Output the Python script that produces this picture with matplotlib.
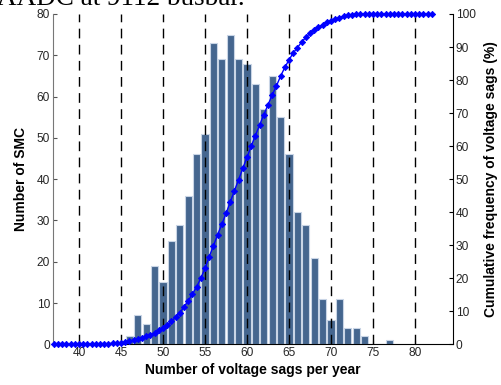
import matplotlib
matplotlib.use("Agg")
import matplotlib.pyplot as plt
import numpy as np

# Histogram: number of SMC per number of voltage sags per year
sags = [46, 47, 48, 49, 50, 51, 52, 53, 54, 55, 56, 57, 58, 59, 60, 61, 62,
        63, 64, 65, 66, 67, 68, 69, 70, 71, 72, 73, 74, 75, 76, 77]
smc_counts = [2, 7, 5, 19, 15, 25, 29, 36, 46, 51, 73, 69, 75, 69, 68, 63, 57,
              65, 55, 46, 32, 29, 21, 11, 6, 11, 4, 4, 2, 0, 0, 1]

# Cumulative frequency curve (%), sampled every 0.5 sags/year
cum_x = [37.0, 37.5, 38.0, 38.5, 39.0, 39.5, 40.0, 40.5, 41.0, 41.5, 42.0, 42.5,
         43.0, 43.5, 44.0, 44.5, 45.0, 45.5, 46.0, 46.5, 47.0, 47.5, 48.0, 48.5,
         49.0, 49.5, 50.0, 50.5, 51.0, 51.5, 52.0, 52.5, 53.0, 53.5, 54.0, 54.5,
         55.0, 55.5, 56.0, 56.5, 57.0, 57.5, 58.0, 58.5, 59.0, 59.5, 60.0, 60.5,
         61.0, 61.5, 62.0, 62.5, 63.0, 63.5, 64.0, 64.5, 65.0, 65.5, 66.0, 66.5,
         67.0, 67.5, 68.0, 68.5, 69.0, 69.5, 70.0, 70.5, 71.0, 71.5, 72.0, 72.5,
         73.0, 73.5, 74.0, 74.5, 75.0, 75.5, 76.0, 76.5, 77.0, 77.5, 78.0, 78.5,
         79.0, 79.5, 80.0, 80.5, 81.0, 81.5, 82.0]
cum_pct = [0.0, 0.0, 0.0, 0.0, 0.0, 0.0, 0.0, 0.1, 0.1, 0.1, 0.1, 0.2,
           0.2, 0.2, 0.3, 0.4, 0.5, 0.7, 0.9, 1.2, 1.5, 1.9, 2.4, 2.9,
           3.5, 4.2, 5.0, 5.9, 7.0, 8.2, 9.6, 11.3, 13.2, 15.2, 17.4, 20.0,
           23.0, 26.5, 29.8, 33.2, 36.3, 39.6, 43.0, 46.5, 49.8, 53.3, 56.6, 60.0,
           63.2, 66.4, 69.5, 72.5, 75.5, 78.2, 81.2, 83.8, 86.1, 88.2, 89.8, 91.5,
           92.9, 94.2, 95.3, 96.0, 96.7, 97.5, 98.0, 98.4, 98.9, 99.3, 99.6, 99.8,
           100.0, 100.0, 100.0, 100.0, 100.0, 100.0, 100.0, 100.0, 100.0, 100.0, 100.0, 100.0,
           100.0, 100.0, 100.0, 100.0, 100.0, 100.0, 100.0]

x_ticks = [40, 45, 50, 55, 60, 65, 70, 75, 80]
left_ticks = [0, 10, 20, 30, 40, 50, 60, 70, 80]
right_ticks = [0, 10, 20, 30, 40, 50, 60, 70, 80, 90, 100]

plt.rcParams['font.family'] = ['Liberation Sans', 'DejaVu Sans']

fig = plt.figure(figsize=(5.02, 3.85), dpi=100)
ax = fig.add_axes([0.105, 0.1057, 0.797, 0.858])

ax.bar(sags, smc_counts, width=0.88, color='#45668f', edgecolor='#c9d5e6',
       linewidth=0.8, zorder=1)
ax.set_xlim(36.87, 84.5)
ax.set_ylim(0, 80)
ax.set_xticks(x_ticks)
ax.set_yticks(left_ticks)
ax.xaxis.grid(True, color='black', linewidth=1.0, linestyle=(0, (7.0, 4.6)))
ax.set_axisbelow('line')
ax.tick_params(direction='in', labelsize=8.6, labelcolor='#262626', length=3,
               width=0.8, pad=2)
ax.tick_params(axis='y', colors='#555555', labelcolor='#262626')
ax.spines['top'].set_visible(False)
ax.spines['left'].set_color('#777777')
ax.spines['bottom'].set_color('black')
ax.spines['right'].set_visible(False)
ax.set_xlabel('Number of voltage sags per year', fontsize=10, fontweight='bold',
              labelpad=3)
ax.set_ylabel('Number of SMC', fontsize=10, fontweight='bold', labelpad=6)

ax2 = ax.twinx()
ax2.plot(cum_x, cum_pct, color='#0000ff', linewidth=1.0, marker='D',
         markersize=3.2, markeredgewidth=0.6, clip_on=False, zorder=3)
ax2.set_ylim(0, 100)
ax2.set_yticks(right_ticks)
ax2.tick_params(direction='in', labelsize=8.6, labelcolor='#262626', length=3,
                width=0.8, pad=2)
ax2.spines['top'].set_visible(False)
ax2.spines['left'].set_visible(False)
ax2.spines['bottom'].set_visible(False)
ax2.spines['right'].set_color('black')
ax2.set_ylabel('Cumulative frequency of voltage sags (%)', fontsize=10,
               fontweight='bold', labelpad=6)

fig.text(-0.005, 1 - 5.0 / 385, 'AADC at 9112 busbar.', fontsize=19.5,
         family=['Liberation Serif', 'DejaVu Serif'],
         ha='left', va='baseline')

fig.savefig('out.png', dpi=100)
